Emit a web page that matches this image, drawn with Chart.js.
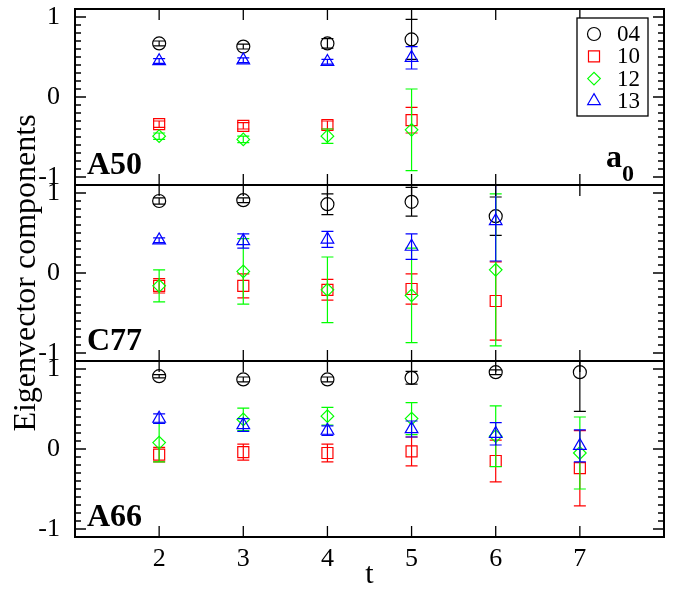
<!DOCTYPE html>
<html>
<head>
<meta charset="utf-8">
<title>Eigenvector components</title>
<script src="https://cdn.jsdelivr.net/npm/chart.js@4/dist/chart.umd.min.js"></script>
<style>
  html, body { margin: 0; padding: 0; background: #fff; }
  #wrap { width: 682px; height: 589px; }
</style>
</head>
<body>
<div id="wrap"><canvas id="chart"></canvas></div>
<script>
const tValues = [2, 3, 4, 5, 6, 7];
const xTicks = [2, 3, 4, 5, 6, 7];
const yTicks = [-1, 0, 1];
const seriesLabels = ['04', '10', '12', '13'];
const seriesColors = ['#000000', '#ff0000', '#00ff00', '#0000ff'];
const seriesMarkers = ['circle', 'rect', 'rectRot', 'triangle'];
const panelNames = ['A50', 'C77', 'A66'];

// A50, t = 2..5
const a50_04 = [0.67, 0.63, 0.67, 0.72];
const a50_04_err = [0.03, 0.03, 0.06, 0.25];
const a50_10 = [-0.34, -0.36, -0.35, -0.29];
const a50_10_err = [0.04, 0.04, 0.05, 0.16];
const a50_12 = [-0.49, -0.53, -0.49, -0.41];
const a50_12_err = [0.04, 0.04, 0.09, 0.51];
const a50_13 = [0.45, 0.46, 0.44, 0.49];
const a50_13_err = [0.03, 0.03, 0.03, 0.14];

// C77, t = 2..6
const c77_04 = [0.90, 0.91, 0.86, 0.89, 0.71];
const c77_04_err = [0.04, 0.03, 0.13, 0.18, 0.24];
const c77_10 = [-0.16, -0.16, -0.21, -0.20, -0.35];
const c77_10_err = [0.09, 0.15, 0.13, 0.19, 0.49];
const c77_12 = [-0.16, 0.02, -0.21, -0.28, 0.04];
const c77_12_err = [0.20, 0.41, 0.41, 0.59, 0.95];
const c77_13 = [0.41, 0.40, 0.42, 0.33, 0.65];
const c77_13_err = [0.03, 0.09, 0.10, 0.16, 0.50];

// A66, t = 2..7
const a66_04 = [0.91, 0.87, 0.87, 0.89, 0.96, 0.96];
const a66_04_err = [0.02, 0.03, 0.03, 0.08, 0.03, 0.49];
const a66_10 = [-0.07, -0.04, -0.05, -0.03, -0.15, -0.24];
const a66_10_err = [0.09, 0.10, 0.11, 0.18, 0.26, 0.47];
const a66_12 = [0.08, 0.37, 0.41, 0.38, 0.16, -0.05];
const a66_12_err = [0.24, 0.14, 0.11, 0.20, 0.38, 0.45];
const a66_13 = [0.38, 0.30, 0.23, 0.25, 0.19, 0.04];
const a66_13_err = [0.06, 0.08, 0.06, 0.10, 0.14, 0.20];

const FONT = "'Liberation Serif', 'Times New Roman', serif";
const markerRadius = [6.5, 7.8, 6.3, 7.3];
const panelAxes = ['yA50', 'yC77', 'yA66'];

function makeSets(panel, values, errors) {
    return values.map((vals, s) => ({
        label: seriesLabels[s],
        yAxisID: panelAxes[panel],
        data: vals.map((v, i) => ({ x: tValues[i], y: v, err: errors[s][i] })),
        borderColor: seriesColors[s],
        backgroundColor: 'rgba(0,0,0,0)',
        pointStyle: seriesMarkers[s],
        pointRadius: markerRadius[s],
        pointHoverRadius: markerRadius[s],
        pointBorderWidth: 1.2,
        showLine: false,
        order: 3 - s
    }));
}

const datasets = [].concat(
    makeSets(0, [a50_04, a50_10, a50_12, a50_13], [a50_04_err, a50_10_err, a50_12_err, a50_13_err]),
    makeSets(1, [c77_04, c77_10, c77_12, c77_13], [c77_04_err, c77_10_err, c77_12_err, c77_13_err]),
    makeSets(2, [a66_04, a66_10, a66_12, a66_13], [a66_04_err, a66_10_err, a66_12_err, a66_13_err])
);

// error bars, clipped to the panel of the dataset
const errorBars = {
    id: 'errorBars',
    afterDatasetDraw(chart, args) {
        const ds = chart.data.datasets[args.index];
        const yScale = chart.scales[ds.yAxisID];
        const area = chart.chartArea;
        const ctx = chart.ctx;
        ctx.save();
        ctx.beginPath();
        ctx.rect(area.left, yScale.top, area.right - area.left, yScale.bottom - yScale.top);
        ctx.clip();
        ctx.strokeStyle = ds.borderColor;
        ctx.lineWidth = 1.2;
        args.meta.data.forEach((pt, i) => {
            const d = ds.data[i];
            const yHi = yScale.getPixelForValue(d.y + d.err);
            const yLo = yScale.getPixelForValue(d.y - d.err);
            ctx.beginPath();
            ctx.moveTo(pt.x, yHi); ctx.lineTo(pt.x, yLo);
            ctx.moveTo(pt.x - 6, yHi); ctx.lineTo(pt.x + 6, yHi);
            ctx.moveTo(pt.x - 6, yLo); ctx.lineTo(pt.x + 6, yLo);
            ctx.stroke();
        });
        ctx.restore();
    }
};

// frames, inward ticks, panel names, legend
const decorations = {
    id: 'decorations',
    afterDraw(chart) {
        const ctx = chart.ctx;
        const area = chart.chartArea;
        const xScale = chart.scales.x;
        ctx.save();
        panelAxes.forEach((id, p) => {
            const ys = chart.scales[id];
            ctx.strokeStyle = '#000';
            ctx.lineWidth = 1.3;
            ctx.beginPath();
            for (let k = -11; k <= 11; k++) {
                const y = ys.getPixelForValue(k / 10);
                const len = k % 10 === 0 ? 11 : 6;
                ctx.moveTo(area.left, y); ctx.lineTo(area.left + len, y);
                ctx.moveTo(area.right, y); ctx.lineTo(area.right - len, y);
            }
            xTicks.forEach(t => {
                const x = xScale.getPixelForValue(t);
                ctx.moveTo(x, ys.top); ctx.lineTo(x, ys.top + 11);
                ctx.moveTo(x, ys.bottom); ctx.lineTo(x, ys.bottom - 11);
            });
            ctx.stroke();
            ctx.lineWidth = 2;
            ctx.strokeRect(area.left, ys.top, area.right - area.left, ys.bottom - ys.top);

            ctx.fillStyle = '#000';
            ctx.textAlign = 'left';
            ctx.textBaseline = 'alphabetic';
            ctx.font = 'bold 32px ' + FONT;
            ctx.fillText(panelNames[p], area.left + 12, ys.bottom - 11);
        });

        // a_0 label in the top panel
        const top = chart.scales[panelAxes[0]];
        ctx.font = 'bold 32px ' + FONT;
        ctx.fillText('a', 606, top.bottom - 18);
        ctx.font = 'bold 24px ' + FONT;
        ctx.fillText('0', 622, top.bottom - 4);

        // legend box
        const lx = 577, ly = 18, lw = 71, lh = 98;
        ctx.fillStyle = '#fff';
        ctx.fillRect(lx, ly, lw, lh);
        ctx.strokeStyle = '#000';
        ctx.lineWidth = 1.3;
        ctx.strokeRect(lx, ly, lw, lh);
        ctx.font = '23px ' + FONT;
        ctx.textBaseline = 'middle';
        seriesLabels.forEach((lab, s) => {
            const y = ly + 16 + s * 22.3;
            ctx.strokeStyle = seriesColors[s];
            ctx.fillStyle = 'rgba(0,0,0,0)';
            ctx.lineWidth = 1.2;
            Chart.helpers.drawPoint(ctx, { pointStyle: seriesMarkers[s], radius: markerRadius[s], borderWidth: 1.2 }, lx + 17, y);
            ctx.fillStyle = '#000';
            ctx.fillText(lab, lx + 40, y + 1);
        });
        ctx.restore();
    }
};

function yAxis(p) {
    return {
        type: 'linear',
        position: 'left',
        stack: 'panels',
        stackWeight: 1,
        weight: 3 - p,
        min: -1.1,
        max: 1.1,
        grid: { display: false },
        border: { display: false },
        ticks: {
            stepSize: 0.1,
            autoSkip: false,
            color: '#000',
            padding: 7,
            font: { family: FONT, size: 26 },
            callback: v => {
                const r = Math.round(v);
                return Math.abs(v - r) < 1e-6 && yTicks.includes(r) ? String(r) : null;
            }
        },
        title: {
            display: p === 1,
            text: 'Eigenvector components',
            color: '#000',
            font: { family: FONT, size: 32 },
            padding: { top: 2, bottom: 0 }
        },
        afterFit: s => { s.width = 70; s.paddingTop = 0; s.paddingBottom = 0; }
    };
}

new Chart(document.getElementById('chart'), {
    type: 'scatter',
    data: { datasets: datasets },
    options: {
        responsive: true,
        maintainAspectRatio: false,
        animation: false,
        events: [],
        layout: { padding: { top: 6, right: 18, left: 5, bottom: 0 } },
        plugins: {
            legend: { display: false },
            tooltip: { enabled: false }
        },
        scales: {
            x: {
                type: 'linear',
                position: 'bottom',
                min: 1,
                max: 8,
                grid: { display: false },
                border: { display: false },
                ticks: {
                    stepSize: 1,
                    autoSkip: false,
                    maxRotation: 0,
                    color: '#000',
                    padding: 0,
                    font: { family: FONT, size: 26, lineHeight: 1.1 },
                    callback: v => xTicks.includes(v) ? String(v) : null
                },
                title: {
                    display: true,
                    text: 't',
                    color: '#000',
                    font: { family: FONT, size: 30, lineHeight: 0.95 },
                    padding: 0
                },
                afterFit: s => { s.height = 52; s.paddingLeft = 0; s.paddingRight = 0; }
            },
            yA50: yAxis(0),
            yC77: yAxis(1),
            yA66: yAxis(2)
        }
    },
    plugins: [errorBars, decorations]
});
</script>
</body>
</html>
